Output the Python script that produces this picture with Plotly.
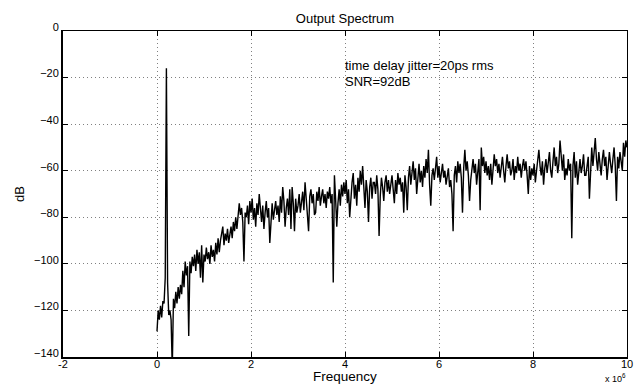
import numpy as np
import plotly.graph_objects as go

# Frequency bins (units of 1e6 Hz), 0 .. 10 in steps of 0.025
n_bins = 401
freq_mhz = np.arange(n_bins) * 0.025

spectrum_db = [
    # 0.0 - 1.0
    -129, -120, -124, -118, -123, -116, -117, -106, -16, -108,
    -122, -120, -124, -145, -115, -119, -112, -117, -110, -115,
    -109, -113, -103, -110, -99, -105, -101, -131, -99, -104,
    -97, -101, -96, -103, -94, -100, -95, -106, -92, -108,
    # 1.0 - 2.0
    -96, -99, -93, -98, -95, -100, -92, -97, -94, -99,
    -91, -96, -89, -95, -90, -86, -84, -92, -87, -90,
    -85, -91, -88, -84, -89, -82, -86, -80, -85, -77,
    -74, -79, -76, -82, -99, -78, -80, -75, -83, -73,
    # 2.0 - 3.0
    -78, -72, -81, -76, -84, -74, -79, -70, -77, -82,
    -75, -85, -78, -73, -80, -76, -91, -79, -74, -81,
    -77, -73, -79, -75, -82, -71, -78, -67, -73, -84,
    -76, -72, -79, -68, -85, -67, -74, -86, -72, -78,
    # 3.0 - 4.0
    -75, -70, -78, -73, -69, -77, -65, -72, -80, -86,
    -71, -68, -74, -70, -79, -78, -69, -73, -67, -75,
    -71, -68, -74, -70, -76, -69, -72, -67, -74, -70,
    -108, -62, -72, -84, -74, -68, -75, -66, -71, -65,
    # 4.0 - 5.0
    -70, -64, -74, -68, -80, -70, -65, -61, -72, -66,
    -75, -63, -69, -60, -66, -58, -70, -76, -64, -69,
    -82, -67, -63, -72, -65, -65, -70, -62, -68, -88,
    -71, -63, -67, -73, -65, -62, -69, -64, -70, -66,
    # 5.0 - 6.0
    -62, -68, -74, -64, -70, -61, -66, -63, -69, -65,
    -78, -62, -67, -77, -63, -58, -66, -61, -56, -64,
    -59, -70, -62, -57, -65, -60, -67, -58, -63, -55,
    -61, -51, -66, -75, -62, -59, -64, -60, -54, -63,
    # 6.0 - 7.0
    -58, -65, -61, -57, -63, -60, -66, -62, -59, -67,
    -64, -70, -86, -62, -58, -65, -56, -61, -57, -63,
    -78, -59, -51, -60, -56, -62, -73, -64, -59, -55,
    -61, -57, -66, -60, -55, -77, -50, -58, -54, -61,
    # 7.0 - 8.0
    -56, -62, -58, -64, -57, -66, -60, -53, -58, -55,
    -61, -57, -63, -59, -54, -60, -65, -58, -53, -59,
    -56, -62, -60, -55, -64, -58, -61, -54, -60, -57,
    -63, -58, -55, -60, -56, -62, -70, -58, -64, -59,
    # 8.0 - 9.0
    -62, -57, -65, -60, -54, -51, -58, -62, -56, -66,
    -59, -55, -61, -57, -52, -60, -63, -56, -50, -58,
    -54, -61, -57, -47, -55, -60, -53, -64, -59, -62,
    -55, -60, -57, -89, -58, -52, -63, -56, -66, -60,
    # 9.0 - 10.0
    -55, -61, -58, -53, -62, -62, -57, -54, -72, -56,
    -50, -58, -53, -46, -55, -60, -52, -57, -62, -55,
    -51, -58, -54, -64, -59, -52, -57, -61, -55, -50,
    -58, -73, -54, -59, -52, -56, -60, -48, -54, -47,
    -50,
]

x_ticks = [-2, 0, 2, 4, 6, 8, 10]
y_ticks = [-140, -120, -100, -80, -60, -40, -20, 0]

FONT = "Liberation Sans, Arial, Helvetica, sans-serif"

fig = go.Figure()
fig.add_trace(go.Scatter(
    x=freq_mhz, y=spectrum_db, mode="lines",
    line=dict(color="black", width=1.4),
    showlegend=False, hoverinfo="skip",
))
fig.add_trace(go.Scatter(x=[None], y=[None], xaxis="x2", yaxis="y2",
                         showlegend=False, hoverinfo="skip"))

common_grid = dict(showgrid=True, gridcolor="#808080", griddash="1px,3px",
                   gridwidth=1, zeroline=False, automargin=False)

fig.update_layout(
    width=635, height=385,
    margin=dict(l=63, r=8, t=31, b=28),
    paper_bgcolor="white", plot_bgcolor="white",
    font=dict(family=FONT, color="black", size=11),
    title=dict(text="Output Spectrum", x=0.5, xanchor="center",
               y=0.953, yanchor="middle", xref="paper",
               font=dict(size=13, family=FONT)),
    xaxis=dict(range=[-2, 10], tickvals=x_ticks, ticktext=[str(v) for v in x_ticks],
               ticks="inside", ticklen=5, tickcolor="black",
               showline=True, linecolor="black", linewidth=2,
               ticklabelstandoff=-4,
               tickfont=dict(size=11), **common_grid),
    yaxis=dict(range=[-140, 0], tickvals=y_ticks,
               ticks="inside", ticklen=5, tickcolor="black",
               showline=True, linecolor="black", linewidth=2,
               ticklabelshift=-4,
               title=dict(text="dB", standoff=6, font=dict(size=13)),
               tickfont=dict(size=11), **common_grid),
    xaxis2=dict(range=[-2, 10], tickvals=x_ticks, overlaying="x", side="top",
                ticks="inside", ticklen=5, tickcolor="black", showticklabels=False,
                showline=True, linecolor="black", linewidth=1, showgrid=False,
                zeroline=False),
    yaxis2=dict(range=[-140, 0], tickvals=y_ticks, overlaying="y", side="right",
                ticks="inside", ticklen=5, tickcolor="black", showticklabels=False,
                showline=True, linecolor="black", linewidth=1, showgrid=False,
                zeroline=False),
    annotations=[
        dict(x=3.95, y=-15, xref="x", yref="y", xanchor="left", yanchor="middle",
             text="time delay jitter=20ps rms", showarrow=False,
             font=dict(size=13, family=FONT)),
        dict(x=3.95, y=-21.5, xref="x", yref="y", xanchor="left", yanchor="middle",
             text="SNR=92dB", showarrow=False,
             font=dict(size=13, family=FONT)),
        dict(x=0.5, y=-0.061, xref="paper", yref="paper", xanchor="center", yanchor="middle",
             text="Frequency", showarrow=False, borderpad=0,
             font=dict(size=13.5, family=FONT)),
        dict(x=1.0, y=-0.063, xref="paper", yref="paper", xanchor="right", yanchor="middle",
             text="x 10<sup>6</sup>", showarrow=False, borderpad=0,
             font=dict(size=9, family=FONT)),
    ],
)

fig.write_html("out.html")
